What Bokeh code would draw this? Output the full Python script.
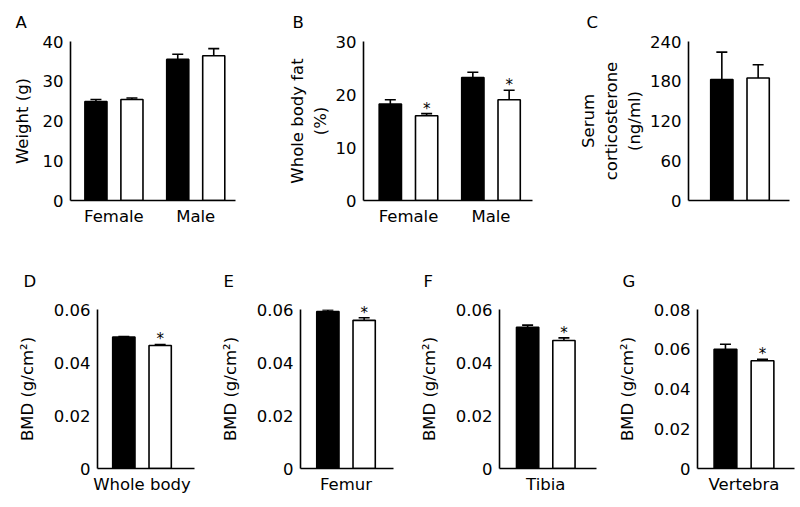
from bokeh.plotting import figure
from bokeh.models import Range1d, FixedTicker, Whisker, TeeHead, ColumnDataSource
from bokeh.layouts import row, column
from bokeh.embed import file_html
from bokeh.resources import INLINE
from bokeh.core.properties import value

# ---------------- data ----------------
# A: body weight (g)
weight_groups = ["Female", "Male"]
weight_black = [24.9, 35.5]
weight_black_err = [0.5, 1.3]
weight_white = [25.4, 36.4]
weight_white_err = [0.4, 1.8]
weight_sig = [False, False]
weight_yticks = [0, 10, 20, 30, 40]
weight_ylabels = ["0", "10", "20", "30", "40"]

# B: whole body fat (%)
fat_groups = ["Female", "Male"]
fat_black = [18.2, 23.2]
fat_black_err = [0.8, 1.0]
fat_white = [16.0, 19.0]
fat_white_err = [0.4, 1.8]
fat_sig = [True, True]
fat_yticks = [0, 10, 20, 30]
fat_ylabels = ["0", "10", "20", "30"]

# C: serum corticosterone (ng/ml)
cort_groups = [""]
cort_black = [182.6]
cort_black_err = [41.4]
cort_white = [185.0]
cort_white_err = [20.0]
cort_sig = [False]
cort_yticks = [0, 60, 120, 180, 240]
cort_ylabels = ["0", "60", "120", "180", "240"]

# D-G: BMD (g/cm2)
bmd_yticks_06 = [0, 0.02, 0.04, 0.06]
bmd_ylabels_06 = ["0", "0.02", "0.04", "0.06"]
bmd_yticks_08 = [0, 0.02, 0.04, 0.06, 0.08]
bmd_ylabels_08 = ["0", "0.02", "0.04", "0.06", "0.08"]

wb_groups = ["Whole body"]
wb_black = [0.0496]
wb_black_err = [0.0002]
wb_white = [0.0464]
wb_white_err = [0.0004]
wb_sig = [True]

femur_groups = ["Femur"]
femur_black = [0.0592]
femur_black_err = [0.0006]
femur_white = [0.0559]
femur_white_err = [0.0010]
femur_sig = [True]

tibia_groups = ["Tibia"]
tibia_black = [0.0533]
tibia_black_err = [0.0008]
tibia_white = [0.0483]
tibia_white_err = [0.0010]
tibia_sig = [True]

vert_groups = ["Vertebra"]
vert_black = [0.0600]
vert_black_err = [0.0025]
vert_white = [0.0542]
vert_white_err = [0.0008]
vert_sig = [True]

# ---------------- styling ----------------
FONT = "DejaVu Sans"
FS = "16.5px"
DODGE = 0.22
BAR_W = 0.27
LW = 1.6


def panel(letter, w, h, bl, br, bt, bb, xr, ymax, yticks, ylabels, ylabel,
          groups, black, black_err, white, white_err, sig,
          label_standoff, title_offset, title_standoff):
    p = figure(width=w, height=h, x_range=Range1d(*xr), y_range=Range1d(0, ymax),
               output_backend="svg", toolbar_location=None,
               min_border_left=bl, min_border_right=br,
               min_border_top=bt, min_border_bottom=bb)
    p.outline_line_color = None
    p.background_fill_color = "white"
    p.border_fill_color = "white"
    p.xgrid.visible = False
    p.ygrid.visible = False

    p.title.text = letter
    p.title.align = "left"
    p.title.offset = title_offset
    p.title.standoff = title_standoff
    p.title.text_font = FONT
    p.title.text_font_size = "16.5px"
    p.title.text_font_style = "normal"
    p.title.text_color = "black"

    n = len(groups)
    xs = list(range(n))
    p.xaxis.ticker = FixedTicker(ticks=xs)
    p.xaxis.major_label_overrides = {i: g for i, g in zip(xs, groups)}
    p.xaxis.major_tick_line_color = None
    p.xaxis.minor_tick_line_color = None
    p.xaxis.major_tick_out = 0
    p.xaxis.major_tick_in = 0
    p.xaxis.major_label_standoff = 6

    p.yaxis.ticker = FixedTicker(ticks=yticks)
    p.yaxis.major_label_overrides = {t: l for t, l in zip(yticks, ylabels)}
    p.yaxis.minor_tick_line_color = None
    p.yaxis.major_tick_in = 0
    p.yaxis.major_tick_out = 5
    p.yaxis.major_label_standoff = 2
    p.yaxis.axis_label = ylabel
    p.yaxis.axis_label_standoff = label_standoff

    for ax in (p.xaxis, p.yaxis):
        ax.axis_line_width = LW
        ax.axis_line_color = "black"
        ax.major_tick_line_width = LW
        ax.major_tick_line_color = "black" if ax is p.yaxis else None
        ax.major_label_text_font = FONT
        ax.major_label_text_font_size = FS
        ax.major_label_text_color = "black"
        ax.axis_label_text_font = FONT
        ax.axis_label_text_font_size = FS
        ax.axis_label_text_font_style = "normal"
        ax.axis_label_text_color = "black"

    xb = [x - DODGE for x in xs]
    xw = [x + DODGE for x in xs]
    src_b = ColumnDataSource(dict(x=xb, top=black,
                                  hi=[v + e for v, e in zip(black, black_err)]))
    src_w = ColumnDataSource(dict(x=xw, top=white,
                                  hi=[v + e for v, e in zip(white, white_err)]))

    p.vbar(x="x", top="top", bottom=0, width=BAR_W, source=src_b,
           fill_color="black", line_color="black", line_width=LW)
    p.vbar(x="x", top="top", bottom=0, width=BAR_W, source=src_w,
           fill_color="white", line_color="black", line_width=LW)

    for src in (src_b, src_w):
        p.add_layout(Whisker(base="x", lower="top", upper="hi", source=src,
                             line_color="black", line_width=LW,
                             upper_head=TeeHead(size=11, line_color="black", line_width=LW),
                             lower_head=None))

    sx = [x for x, s in zip(xw, sig) if s]
    sy = [v + e for v, e, s in zip(white, white_err, sig) if s]
    if sx:
        p.text(x=sx, y=sy, text=["*"] * len(sx), text_align="center",
               text_baseline="alphabetic", y_offset=-5,
               text_font=value(FONT), text_font_size="15px", text_color="#000000",
               level="overlay")
    return p


TOP_H = 250
BOT_H = 255

pA = panel("A", 270, TOP_H, 70, 35, 41, 50, (-0.531, 1.486), 40,
           weight_yticks, weight_ylabels, "Weight (g)",
           weight_groups, weight_black, weight_black_err, weight_white, weight_white_err,
           weight_sig, 8, -55, 20)
pB = panel("B", 290, TOP_H, 93, 28, 41, 50, (-0.545, 1.503), 30,
           fat_yticks, fat_ylabels, "Whole body fat\n(%)",
           fat_groups, fat_black, fat_black_err, fat_white, fat_white_err,
           fat_sig, 3, -71, 20)
pC = panel("C", 240, TOP_H, 128, 11, 41, 50, (-0.624, 0.6), 240,
           cort_yticks, cort_ylabels, "Serum\ncorticosterone\n(ng/ml)",
           cort_groups, cort_black, cort_black_err, cort_white, cort_white_err,
           cort_sig, 3, -102, 20)

pD = panel("D", 205, BOT_H, 97, 11, 58, 37, (-0.539, 0.636), 0.06,
           bmd_yticks_06, bmd_ylabels_06, "BMD (g/cm²)",
           wb_groups, wb_black, wb_black_err, wb_white, wb_white_err,
           wb_sig, 14, -74, 38)
pE = panel("E", 200, BOT_H, 95, 12, 58, 37, (-0.552, 0.576), 0.06,
           bmd_yticks_06, bmd_ylabels_06, "BMD (g/cm²)",
           femur_groups, femur_black, femur_black_err, femur_white, femur_white_err,
           femur_sig, 14, -77, 38)
pF = panel("F", 200, BOT_H, 94, 9, 58, 37, (-0.561, 0.615), 0.06,
           bmd_yticks_06, bmd_ylabels_06, "BMD (g/cm²)",
           tibia_groups, tibia_black, tibia_black_err, tibia_white, tibia_white_err,
           tibia_sig, 14, -76, 38)
pG = panel("G", 195, BOT_H, 92, 6, 58, 37, (-0.552, 0.6), 0.08,
           bmd_yticks_08, bmd_ylabels_08, "BMD (g/cm²)",
           vert_groups, vert_black, vert_black_err, vert_white, vert_white_err,
           vert_sig, 14, -75, 38)

layout = column(row(pA, pB, pC), row(pD, pE, pF, pG))
open("out.html", "w").write(file_html(layout, INLINE))
